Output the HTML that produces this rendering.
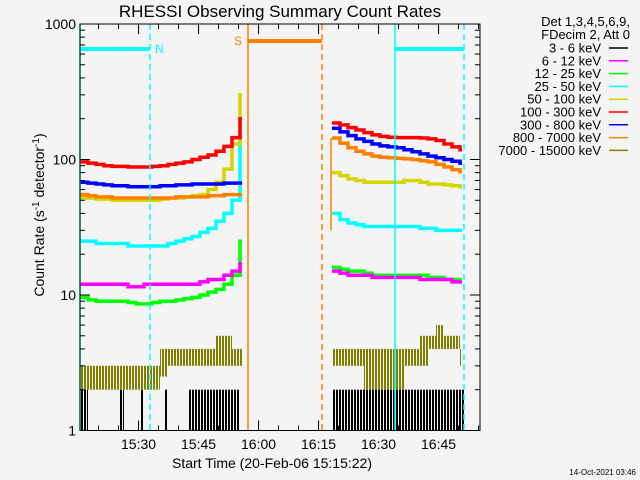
<!DOCTYPE html>
<html><head><meta charset="utf-8"><style>
body{margin:0;background:#f4f4f4;}
svg{display:block;font-family:"Liberation Sans",sans-serif;}
</style></head><body>
<svg id="chart" width="640" height="480" viewBox="0 0 640 480">
<defs>
<pattern id="stripesBlack" width="3" height="10" patternUnits="userSpaceOnUse"><rect x="0" y="0" width="2" height="10" fill="#000"/></pattern>
<pattern id="stripesOlive" width="3" height="10" patternUnits="userSpaceOnUse"><rect x="0" y="0" width="2" height="10" fill="#808000"/></pattern>
</defs>
<rect x="0" y="0" width="640" height="480" fill="#f4f4f4"/>
<text x="280" y="17" font-size="17" text-anchor="middle">RHESSI Observing Summary Count Rates</text>
<text transform="translate(44,215) rotate(-90)" font-size="14" text-anchor="middle">Count Rate (s<tspan dy="-5" font-size="10">-1</tspan><tspan dy="5"> detector</tspan><tspan dy="-5" font-size="10">-1</tspan><tspan dy="5">)</tspan></text>
<text x="272" y="468" font-size="14" text-anchor="middle">Start Time (20-Feb-06 15:15:22)</text>
<text x="636" y="475" font-size="8" text-anchor="end">14-Oct-2021 03:46</text>
<g id="marks"></g>
<g id="axes"></g>
<g id="legend"></g>
</svg>
<script>
const seg1T=[0,2,4,6,8,10,12,14,16,18,20,22,24,26,28,30,32,34,36,38,40];
const seg2T=[63,65,67,69,71,73,75,77,79,81,83,85,87,89,91,93,95];
const red1=[96,94,92,90,89,89,88,88,88,89,90,92,94,96,100,104,108,115,125,145,200];
const red2=[186,180,172,165,158,152,148,146,145,145,145,144,142,138,130,124,118];
const blue1=[68,67,66,65,64,64,63,63,63,63,64,64,65,65,66,66,66,66,67,67,67];
const blue2=[170,160,150,142,136,130,126,124,122,118,114,110,106,103,100,97,94];
const orange1=[55,54,53,53,52,52,52,52,52,52,52,52,53,53,53,53,54,54,55,55,55];
const orange2=[144,132,122,115,110,106,104,103,102,101,100,98,96,92,88,84,81];
const yellow1=[52,52,51,51,50,50,50,50,50,50,51,52,52,53,54,55,60,68,85,130,300];
const yellow2=[80,76,72,70,68,68,68,68,68,70,70,68,66,66,65,64,63];
const cyan1=[25,25,24,24,24,24,23,23,23,23,23,24,25,26,27,29,31,35,40,50,140];
const cyan2=[40,36,34,33,32,32,32,32,32,32,32,31,31,30,30,30,30];
const magenta1=[12,12,12,12,12,12,11.5,11.5,12,12,12,12,12,12,12,12.5,13,13,14,15,17];
const magenta2=[15,14.5,14,14,14,13.5,13.5,13.5,13.5,13.5,13.5,13,13,13,13,12.5,12.5];
const green1=[9.6,9.2,9,9,9,9,8.8,8.6,8.6,8.8,9,9,9.2,9.4,9.6,10,10.5,11,12,14,25];
const green2=[16,15.5,15,15,14.5,14,14,14,14,14,14,14,13.5,13.5,13,13,12.5];
const olive1Lo=[2,2,2,2,2,2,2,2,2,2,2.5,3,3,3,3,3,3,3,3,3,3];
const olive1Hi=[3,3,3,3,3,3,3,3,3,3,4,4,4,4,4,4,4,5,5,4,4];
const olive2Lo=[3,3,3,3,2,2,2,2,2,3,3,3,4,4,4,4,3];
const olive2Hi=[4,4,4,4,4,4,4,4,4,4,4,5,5,6,5,5,4];
const black1Hi=[2,2,1,1,1,1,1,1,1,1,2,1,1,1,1,2,1,1,1,1,1,2,1,1,1,1,1,2,2,2,2,2,2,2,2,2,2,2,2,2];
const black2Hi=[2,2,2,2,2,2,2,2,2,2,2,2,2,2,2,2,2,2,2,2,2,2,2,2,2,2,2,2,2,2,2,2,2];
const yTicks=[1,10,100,1000];
const yTickLabels=["1","10","100","1000"];
const xTickMin=[14.633,29.633,44.633,59.633,74.633,89.633];
const xTickLabels=["15:30","15:45","16:00","16:15","16:30","16:45"];
const legendLabels=["3 - 6 keV","6 - 12 keV","12 - 25 keV","25 - 50 keV","50 - 100 keV","100 - 300 keV","300 - 800 keV","800 - 7000 keV","7000 - 15000 keV"];
const legendColors=["#000000","#ff00ff","#00ff00","#00ffff","#d4d400","#ff0000","#0000ff","#ff8000","#808000"];

const X0=80,X1=480,Y0=24,Y1=430.5;
function xs(t){return X0+t*4;}
function ys(v){return Y1-135.5*Math.log10(v);}
const NS="http://www.w3.org/2000/svg";
const marks=document.getElementById('marks');
const axes=document.getElementById('axes');
function mk(tag,attrs,parent){const e=document.createElementNS(NS,tag);for(const k in attrs)e.setAttribute(k,attrs[k]);parent.appendChild(e);return e;}

function blackBand(arr,t0,name){
  arr.forEach((v,i)=>{ if(v>1){
    const r=mk('rect',{x:xs(t0+i),y:ys(v),width:4,height:ys(1)-ys(v),fill:'url(#stripesBlack)'},marks);
    
    
  }});
}
blackBand(black1Hi,0,'series-3-6kev');
blackBand(black2Hi,63,'series-3-6kev');
function band(T,lo,hi,name){
  T.forEach((t,i)=>{
    const w=(i<T.length-1)?(T[i+1]-t)*4:2;
    const r=mk('rect',{x:xs(t),y:ys(hi[i]),width:w,height:ys(lo[i])-ys(hi[i]),fill:'url(#stripesOlive)'},marks);
    
    
  });
}
band(seg1T,olive1Lo,olive1Hi,'series-7000-15000kev');
band(seg2T,olive2Lo,olive2Hi,'series-7000-15000kev');
function stepPath(T,V){
  let d='';
  T.forEach((t,i)=>{const x=xs(t),y=ys(V[i]);d+=(i==0?'M':'H')+x+(i==0?','+y:'')+' V'+y+' ';});
  d+='H'+(xs(T[T.length-1])+2);
  return d;
}
const series=[
 [green1,green2,'#00ff00','series-12-25kev'],
 [magenta1,magenta2,'#ff00ff','series-6-12kev'],
 [cyan1,cyan2,'#00ffff','series-25-50kev'],
 [yellow1,yellow2,'#d4d400','series-50-100kev'],
 [orange1,orange2,'#ff8000','series-800-7000kev'],
 [blue1,blue2,'#0000ff','series-300-800kev'],
 [red1,red2,'#ff0000','series-100-300kev']];
series.forEach(s=>{
  [[seg1T,s[0]],[seg2T,s[1]]].forEach(p=>{
    const e=mk('path',{d:stepPath(p[0],p[1]),fill:'none',stroke:s[2],'stroke-width':3.5},marks);
    
    
  });
});
const flags=[
 {x:80,c:'#00ffff',dash:null,n:'night-end-line'},
 {x:150,c:'#00ffff',dash:'6,4',n:'night-start-line'},
 {x:248,c:'#ff8000',dash:null,n:'saa-start-line'},
 {x:322,c:'#ff8000',dash:'6,4',n:'saa-end-line'},
 {x:395,c:'#00ffff',dash:null,n:'night-end-line-2'},
 {x:464,c:'#00ffff',dash:'6,4',n:'night-start-line-2'}];
flags.forEach(f=>{
  const a={x1:f.x,x2:f.x,y1:Y0,y2:Y1,stroke:f.c,'stroke-width':1.5};
  if(f.dash)a['stroke-dasharray']=f.dash;
  const e=mk('line',a,marks);
  
  
});
let e;
e=mk('line',{x1:80,x2:150,y1:49,y2:49,stroke:'#00ffff','stroke-width':4},marks);

e=mk('line',{x1:395,x2:464,y1:49,y2:49,stroke:'#00ffff','stroke-width':4},marks);

e=mk('line',{x1:248,x2:322,y1:41,y2:41,stroke:'#ff8000','stroke-width':4},marks);

e=mk('text',{x:155,y:53,'font-size':12,fill:'#00ffff'},marks);e.textContent='N';

e=mk('text',{x:234,y:45,'font-size':12,fill:'#ff8000'},marks);e.textContent='S';

e=mk('line',{x1:331,x2:331,y1:ys(144),y2:ys(30),stroke:'#ff8000','stroke-width':1.5},marks);


e=mk('rect',{x:X0,y:Y0,width:X1-X0,height:Y1-Y0,fill:'none',stroke:'#000','stroke-width':1},axes);

for(let d=0;d<3;d++){for(let m=1;m<10;m++){
  const v=m*Math.pow(10,d);const y=ys(v);const L=(m==1)?10:5;
  mk('line',{x1:X0,x2:X0+L,y1:y,y2:y,stroke:'#000'},axes);
  mk('line',{x1:X1-L,x2:X1,y1:y,y2:y,stroke:'#000'},axes);
}}
yTicks.forEach((v,i)=>{
  const t=mk('text',{x:76,y:ys(v)+5,'font-size':14,'text-anchor':'end'},axes);
  t.textContent=yTickLabels[i];
  
  
});
for(let k=-2;k<=18;k++){
  const t=xTickMin[0]+k*5; if(t<0||t>100)continue;
  const major=((k%3)+3)%3==0;const L=major?10:5;const x=xs(t);
  mk('line',{x1:x,x2:x,y1:Y1,y2:Y1-L,stroke:'#000'},axes);
  mk('line',{x1:x,x2:x,y1:Y0,y2:Y0+L,stroke:'#000'},axes);
}
xTickMin.forEach((t,i)=>{
  const el=mk('text',{x:xs(t),y:449,'font-size':14,'text-anchor':'middle'},axes);
  el.textContent=xTickLabels[i];
  
  
});
const lg=document.getElementById('legend');
e=mk('text',{x:630,y:26,'font-size':13,'text-anchor':'end'},lg);e.textContent='Det 1,3,4,5,6,9,';

e=mk('text',{x:630,y:39,'font-size':13,'text-anchor':'end'},lg);e.textContent='FDecim 2, Att 0';

legendLabels.forEach((l,i)=>{
  const y=48+i*12.8;
  const t=mk('text',{x:601,y:y+4.5,'font-size':13,'text-anchor':'end'},lg);
  t.textContent=l;
  
  
  const ln=mk('line',{x1:609,x2:628,y1:y,y2:y,stroke:legendColors[i],'stroke-width':1.5},lg);
  
  
});
</script>
</body></html>
